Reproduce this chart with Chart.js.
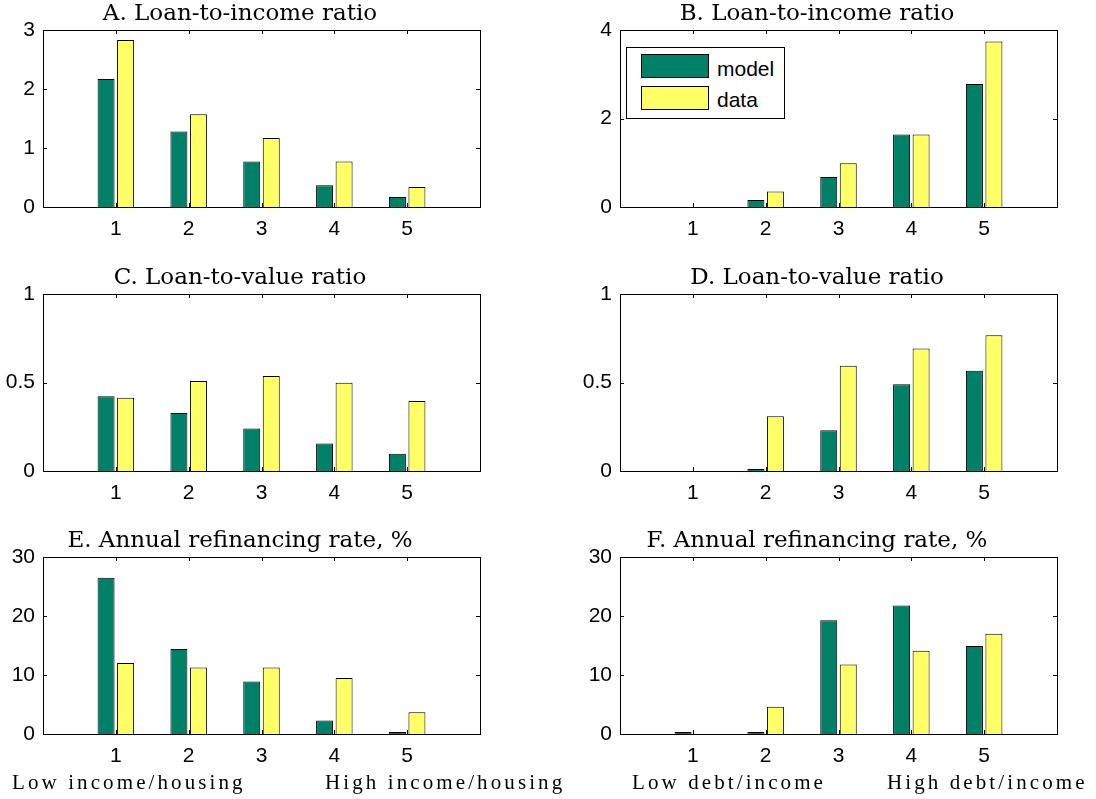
<!DOCTYPE html>
<html>
<head>
<meta charset="utf-8">
<script src="https://cdn.jsdelivr.net/npm/chart.js@4.4.0/dist/chart.umd.min.js"></script>
<style>
    html, body { margin: 0; padding: 0; background: #fff; overflow: hidden; }
    #page { position: relative; width: 1096px; height: 799px; overflow: hidden; }
    #page canvas { position: absolute; }
    .bottom-label {
        position: absolute; top: 772px; white-space: nowrap; color: #000;
        font-family: 'Liberation Serif', serif; font-size: 21px; line-height: 21px; letter-spacing: 3.1px;
    }
    #legend { position: absolute; left: 626px; top: 47px; width: 157px; height: 70px; border: 1px solid #000; background: #fff; }
    .legend-patch { position: absolute; left: 14px; width: 66px; height: 22px; border: 1px solid #000; }
    .legend-text { position: absolute; left: 90px; font-family: 'Liberation Sans', Arial, sans-serif; font-size: 21px; line-height: 24px; color: #000; }
</style>
</head>
<body>
<div id="page">
    <canvas id="chart-a" width="523" height="247" style="left:0px;top:0px"></canvas>
    <canvas id="chart-b" width="523" height="247" style="left:577px;top:0px"></canvas>
    <canvas id="chart-c" width="523" height="247" style="left:0px;top:264px"></canvas>
    <canvas id="chart-d" width="523" height="247" style="left:577px;top:264px"></canvas>
    <canvas id="chart-e" width="523" height="247" style="left:0px;top:527px"></canvas>
    <canvas id="chart-f" width="523" height="247" style="left:577px;top:527px"></canvas>

    <div id="legend">
        <div class="legend-patch" style="top:6px;background:#008066"></div>
        <div class="legend-text" style="top:9px">model</div>
        <div class="legend-patch" style="top:38px;background:#ffff66"></div>
        <div class="legend-text" style="top:40px">data</div>
    </div>

    <div class="bottom-label" style="left:12px">Low income/housing</div>
    <div class="bottom-label" style="left:325px">High income/housing</div>
    <div class="bottom-label" style="left:632px">Low debt/income</div>
    <div class="bottom-label" style="left:887px">High debt/income</div>
</div>

<script>
// quintile groups on the x axis
const categories = ['1', '2', '3', '4', '5'];
const xLimits = [0, 6];

// A: loan-to-income, sorted by income/housing
const modelA = [2.17, 1.28, 0.77, 0.37, 0.17];
const dataA = [2.83, 1.57, 1.17, 0.77, 0.34];
const ticksA = [0, 1, 2, 3];

// B: loan-to-income, sorted by debt/income
const modelB = [0, 0.16, 0.68, 1.64, 2.78];
const dataB = [0, 0.35, 0.99, 1.64, 3.74];
const ticksB = [0, 2, 4];

// C: loan-to-value, sorted by income/housing
const modelC = [0.423, 0.327, 0.24, 0.155, 0.098];
const dataC = [0.414, 0.508, 0.537, 0.499, 0.395];
const ticksC = [0, 0.5, 1];

// D: loan-to-value, sorted by debt/income
const modelD = [0, 0.011, 0.23, 0.49, 0.567];
const dataD = [0, 0.31, 0.595, 0.692, 0.767];
const ticksD = [0, 0.5, 1];

// E: refinancing rate, sorted by income/housing
const modelE = [26.5, 14.4, 8.9, 2.3, 0.34];
const dataE = [12.05, 11.26, 11.26, 9.5, 3.7];
const ticksE = [0, 10, 20, 30];

// F: refinancing rate, sorted by debt/income
const modelF = [0.34, 0.34, 19.3, 21.8, 14.9];
const dataF = [0, 4.6, 11.8, 14.1, 16.98];
const ticksF = [0, 10, 20, 30];

const GREEN = '#008066';
const YELLOW = '#ffff66';

// box around the plot with small inward ticks on all four sides
const boxTicks = {
    id: 'boxTicks',
    afterDatasetsDraw(chart) {
        const { ctx, chartArea: a, scales } = chart;
        const len = 4;
        ctx.save();
        ctx.strokeStyle = '#000';
        ctx.lineWidth = 1;
        ctx.beginPath();
        scales.x.ticks.forEach(t => {
            const px = Math.round(scales.x.getPixelForValue(t.value)) + 0.5;
            ctx.moveTo(px, a.bottom); ctx.lineTo(px, a.bottom - len);
            ctx.moveTo(px, a.top); ctx.lineTo(px, a.top + len);
        });
        scales.y.ticks.forEach(t => {
            const py = Math.round(scales.y.getPixelForValue(t.value)) + 0.5;
            ctx.moveTo(a.left, py); ctx.lineTo(a.left + len, py);
            ctx.moveTo(a.right, py); ctx.lineTo(a.right - len, py);
        });
        ctx.stroke();
        ctx.strokeRect(Math.round(a.left) + 0.5, Math.round(a.top) + 0.5,
            Math.round(a.width), Math.round(a.height));
        ctx.restore();
    }
};

function makePanel(id, title, model, data, yTicks) {
    const tickFont = { family: "'Liberation Sans', Arial, sans-serif", size: 21 };
    return new Chart(document.getElementById(id), {
        type: 'bar',
        data: {
            labels: categories,
            datasets: [
                { label: 'model', data: model, backgroundColor: GREEN, borderColor: '#000', borderWidth: 1 },
                { label: 'data', data: data, backgroundColor: YELLOW, borderColor: '#000', borderWidth: 1 }
            ]
        },
        options: {
            responsive: false,
            animation: false,
            categoryPercentage: 0.536,
            barPercentage: 0.87,
            layout: { padding: { left: 0, right: 43, top: 0, bottom: 0 } },
            plugins: {
                legend: { display: false },
                tooltip: { enabled: false },
                title: {
                    display: true,
                    text: title,
                    color: '#000',
                    font: { family: "'DejaVu Serif', serif", size: 23, weight: 'normal' },
                    padding: { top: 0, bottom: 2.4 }
                }
            },
            scales: {
                x: {
                    type: 'linear',
                    min: xLimits[0],
                    max: xLimits[1],
                    offset: false,
                    grid: { display: false, drawTicks: false, offset: false },
                    border: { display: false },
                    afterBuildTicks: scale => { scale.ticks = categories.map(c => ({ value: +c })); },
                    ticks: { color: '#000', font: tickFont, padding: 10, maxRotation: 0, callback: v => String(v) },
                    afterFit: scale => { scale.height = 40; }
                },
                y: {
                    min: yTicks[0],
                    max: yTicks[yTicks.length - 1],
                    grid: { display: false, drawTicks: false },
                    border: { display: false },
                    afterBuildTicks: scale => { scale.ticks = yTicks.map(v => ({ value: v })); },
                    ticks: { color: '#000', font: tickFont, padding: 8, callback: v => String(v) },
                    afterFit: scale => { scale.width = 43; }
                }
            }
        },
        plugins: [boxTicks]
    });
}

document.addEventListener('DOMContentLoaded', function () {
    makePanel('chart-a', 'A. Loan-to-income ratio', modelA, dataA, ticksA);
    makePanel('chart-b', 'B. Loan-to-income ratio', modelB, dataB, ticksB);
    makePanel('chart-c', 'C. Loan-to-value ratio', modelC, dataC, ticksC);
    makePanel('chart-d', 'D. Loan-to-value ratio', modelD, dataD, ticksD);
    makePanel('chart-e', 'E. Annual refinancing rate, %', modelE, dataE, ticksE);
    makePanel('chart-f', 'F. Annual refinancing rate, %', modelF, dataF, ticksF);
});
</script>
</body>
</html>
